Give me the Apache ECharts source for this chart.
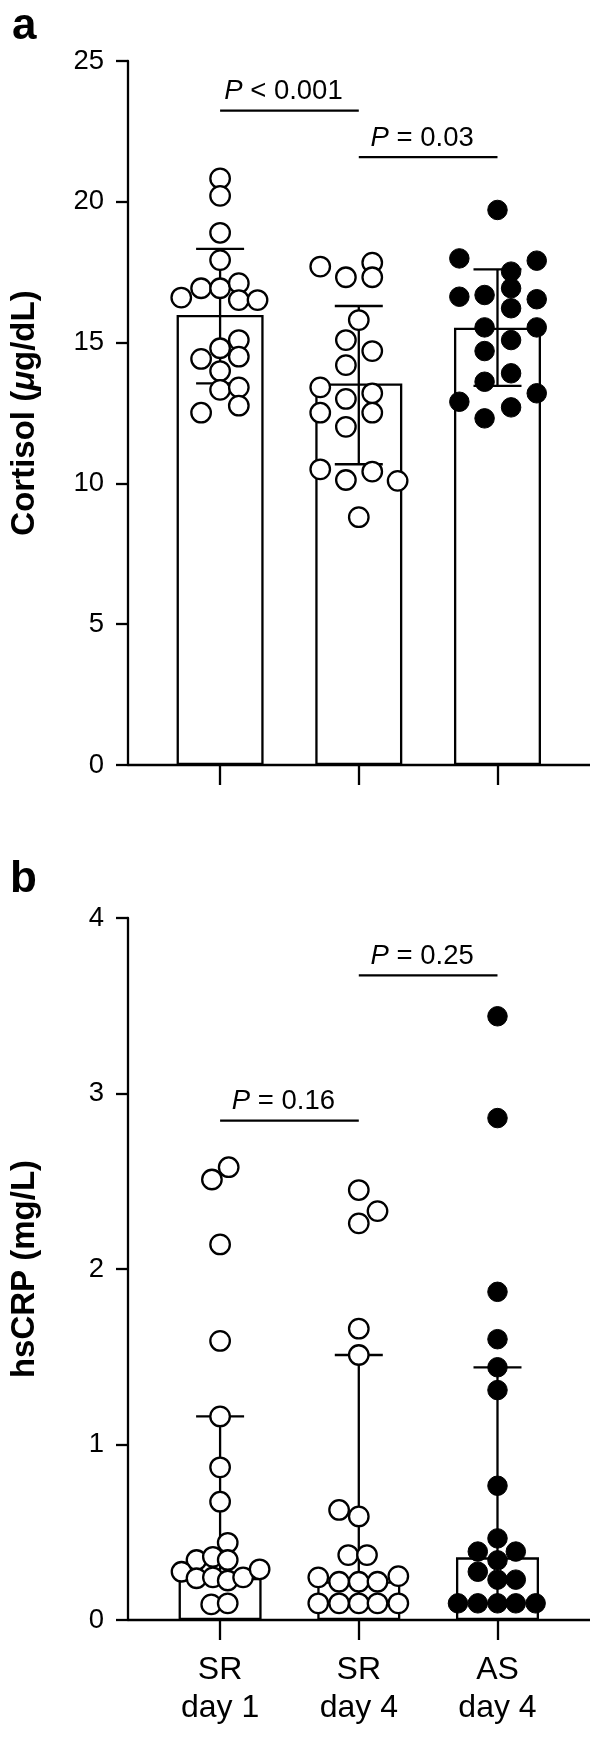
<!DOCTYPE html>
<html>
<head>
<meta charset="utf-8">
<script src="https://cdn.jsdelivr.net/npm/echarts@6/dist/echarts.min.js"></script>
<style>
  html, body { margin: 0; padding: 0; background: #fff; }
  #chart { width: 590px; height: 1737px; }
</style>
</head>
<body>
<div id="chart"></div>
<script>
// groups sit at x = 1, 2, 3
const groups = ["SR\nday 1", "SR\nday 4", "AS\nday 4"];

// ---- a: cortisol (µg/dL), mean ± SD ----
const cortSR1 = [20.83, 20.21, 18.90, 17.93, 16.60, 16.93, 16.93, 17.11, 16.51, 16.51, 15.09, 14.80, 14.42, 14.50, 13.99, 13.32, 13.41, 12.76, 12.51];
const cortSR1Jit = [0, 0, 0, 0, -0.28, -0.137, 0, 0.135, 0.135, 0.27, 0.135, 0, -0.137, 0.135, 0, 0, 0.135, 0.135, -0.137];
const cortSR4 = [17.70, 17.84, 17.32, 17.32, 15.80, 15.09, 14.70, 14.20, 13.41, 13.20, 13.00, 12.51, 12.51, 12.01, 10.50, 10.42, 10.12, 10.09, 8.80];
const cortSR4Jit = [-0.278, 0.097, -0.093, 0.097, 0, -0.093, 0.097, -0.093, -0.278, 0.097, -0.093, -0.278, 0.097, -0.093, -0.278, 0.097, -0.093, 0.28, 0];
const cortAS4 = [19.71, 17.99, 17.91, 17.52, 16.93, 16.63, 16.69, 16.54, 16.22, 15.54, 15.54, 15.09, 14.70, 13.91, 13.61, 12.90, 13.20, 12.70, 12.31];
const cortAS4Jit = [0, -0.275, 0.283, 0.098, 0.098, -0.275, -0.093, 0.283, 0.098, -0.093, 0.283, 0.098, -0.093, 0.098, -0.093, -0.275, 0.283, 0.098, -0.093];
const cortMean = [15.98, 13.55, 15.53];
const cortLow = [13.55, 10.68, 13.46];
const cortHigh = [18.33, 16.30, 17.60];
// [from group, to group, bar height, label]
const cortP = [[1, 2, 23.24, "< 0.001"], [2, 3, 21.59, "= 0.03"]];

// ---- b: hsCRP (mg/L), median with IQR ----
const crpSR1 = [2.58, 2.51, 2.14, 1.59, 1.16, 0.87, 0.674, 0.44, 0.342, 0.36, 0.342, 0.275, 0.238, 0.243, 0.225, 0.243, 0.289, 0.089, 0.095];
const crpSR1Jit = [0.062, -0.059, 0, 0, 0, 0, 0, 0.055, -0.17, -0.052, 0.055, -0.278, -0.17, -0.052, 0.055, 0.166, 0.285, -0.064, 0.055];
const crpSR4 = [2.45, 2.33, 2.26, 1.66, 1.51, 0.627, 0.59, 0.37, 0.37, 0.243, 0.218, 0.218, 0.218, 0.25, 0.095, 0.095, 0.095, 0.095, 0.095];
const crpSR4Jit = [0, 0.135, 0, 0, 0, -0.142, 0, -0.076, 0.059, -0.292, -0.142, 0, 0.135, 0.285, -0.292, -0.142, 0, 0.135, 0.285];
const crpAS4 = [3.44, 2.86, 1.87, 1.60, 1.44, 1.31, 0.765, 0.465, 0.39, 0.39, 0.34, 0.275, 0.23, 0.23, 0.095, 0.095, 0.095, 0.095, 0.095];
const crpAS4Jit = [0, 0, 0, 0, 0, 0, 0, 0, -0.142, 0.132, 0, -0.142, 0, 0.132, -0.285, -0.142, 0, 0.132, 0.275];
const crpMedian = [0.24, 0.22, 0.357];
const crpLow = [0.24, 0.095, 0.095];
const crpHigh = [1.16, 1.51, 1.44];
const crpP = [[1, 2, 2.845, "= 0.16"], [2, 3, 3.673, "= 0.25"]];

const FONT = "Liberation Sans, Arial, Helvetica, sans-serif";
const LW = 2.3;

function points(vals, jit, g) {
  return vals.map((v, i) => [g + jit[i], v]);
}

function errBars(mid, low, high) {
  return mid.map((m, i) => [i + 1, low[i], high[i]]);
}

function renderErr(params, api) {
  const lo = api.coord([api.value(0), api.value(1)]);
  const hi = api.coord([api.value(0), api.value(2)]);
  const w = 24;
  const st = { stroke: "#000", lineWidth: LW };
  return {
    type: "group",
    children: [
      { type: "line", shape: { x1: lo[0], y1: lo[1], x2: hi[0], y2: hi[1] }, style: st },
      { type: "line", shape: { x1: hi[0] - w, y1: hi[1], x2: hi[0] + w, y2: hi[1] }, style: st },
      { type: "line", shape: { x1: lo[0] - w, y1: lo[1], x2: lo[0] + w, y2: lo[1] }, style: st }
    ]
  };
}

function sigRenderer(labels) {
  return function (params, api) {
    const p1 = api.coord([api.value(0), api.value(2)]);
    const p2 = api.coord([api.value(1), api.value(2)]);
    return {
      type: "group",
      children: [
        { type: "line", shape: { x1: p1[0], y1: p1[1], x2: p2[0], y2: p2[1] },
          style: { stroke: "#000", lineWidth: LW } },
        { type: "text", x: (p1[0] + p2[0]) / 2 - 6, y: p1[1] - 19,
          style: {
            text: "{i|P} " + labels[params.dataIndex][3],
            fill: "#000", fontSize: 27.5, fontFamily: FONT,
            align: "center", verticalAlign: "middle",
            rich: { i: { fontStyle: "italic", fontSize: 27.5, fontFamily: FONT, fill: "#000" } }
          } }
      ]
    };
  };
}

function xAxisFor(gi, withLabels) {
  return {
    gridIndex: gi, type: "value", min: 0.336, max: 3.667,
    axisLine: { onZero: false, lineStyle: { color: "#000", width: LW } },
    axisTick: { customValues: [1, 2, 3], length: 20, lineStyle: { color: "#000", width: LW } },
    axisLabel: withLabels ? {
      customValues: [1, 2, 3], formatter: v => groups[Math.round(v) - 1],
      fontSize: 32, lineHeight: 38, margin: 31, color: "#000", fontFamily: FONT
    } : { show: false },
    splitLine: { show: false }
  };
}

function yAxisFor(gi, max, interval, name, rich) {
  return {
    gridIndex: gi, type: "value", min: 0, max: max, interval: interval,
    name: name, nameLocation: "middle", nameGap: 87,
    nameTextStyle: { fontSize: 33, fontWeight: "bold", color: "#000", fontFamily: FONT, rich: rich },
    axisLine: { show: true, lineStyle: { color: "#000", width: LW } },
    axisTick: { show: true, length: 12, lineStyle: { color: "#000", width: LW } },
    axisLabel: { fontSize: 27.5, color: "#000", margin: 24, fontFamily: FONT },
    splitLine: { show: false }
  };
}

const openDot = { color: "#fff", borderColor: "#000", borderWidth: LW, opacity: 1 };
const fullDot = { color: "#000", borderColor: "#000", borderWidth: 1, opacity: 1 };

function scatter(gi, data, style) {
  return { type: "scatter", xAxisIndex: gi, yAxisIndex: gi, data: data,
    symbol: "circle", symbolSize: 19.5, itemStyle: style, z: 4 };
}

const nameRich = {
  b: { fontSize: 33, fontWeight: "bold", fontFamily: FONT, color: "#000" },
  bi: { fontSize: 33, fontWeight: "bold", fontStyle: "italic", fontFamily: FONT, color: "#000" }
};

const option = {
  animation: false,
  backgroundColor: "#fff",
  title: [
    { text: "a", left: 12, top: 5, padding: 0,
      textStyle: { fontSize: 44, fontWeight: "bold", color: "#000", fontFamily: FONT } },
    { text: "b", left: 10, top: 858, padding: 0,
      textStyle: { fontSize: 44, fontWeight: "bold", color: "#000", fontFamily: FONT } }
  ],
  grid: [
    { left: 122, top: 61, width: 468, height: 704 },
    { left: 122, top: 918, width: 468, height: 702 }
  ],
  xAxis: [xAxisFor(0, false), xAxisFor(1, true)],
  yAxis: [
    yAxisFor(0, 25, 5, "{b|Cortisol (}{bi|μ}{b|g/dL)}", nameRich),
    yAxisFor(1, 4, 1, "{b|hsCRP (mg/L)}", nameRich)
  ],
  series: [
    // a
    { type: "bar", xAxisIndex: 0, yAxisIndex: 0, data: cortMean.map((v, i) => [i + 1, v]),
      barWidth: 87, itemStyle: { color: "#fff", borderColor: "#000", borderWidth: LW }, z: 2 },
    { type: "custom", xAxisIndex: 0, yAxisIndex: 0, data: errBars(cortMean, cortLow, cortHigh),
      renderItem: renderErr, z: 3 },
    scatter(0, points(cortSR1, cortSR1Jit, 1), openDot),
    scatter(0, points(cortSR4, cortSR4Jit, 2), openDot),
    scatter(0, points(cortAS4, cortAS4Jit, 3), fullDot),
    { type: "custom", xAxisIndex: 0, yAxisIndex: 0, data: cortP.map(d => [d[0], d[1], d[2]]),
      renderItem: sigRenderer(cortP), z: 5 },
    // b
    { type: "bar", xAxisIndex: 1, yAxisIndex: 1, data: crpMedian.map((v, i) => [i + 1, v]),
      barWidth: 83, itemStyle: { color: "#fff", borderColor: "#000", borderWidth: LW }, z: 2 },
    { type: "custom", xAxisIndex: 1, yAxisIndex: 1, data: errBars(crpMedian, crpLow, crpHigh),
      renderItem: renderErr, z: 3 },
    scatter(1, points(crpSR1, crpSR1Jit, 1), openDot),
    scatter(1, points(crpSR4, crpSR4Jit, 2), openDot),
    scatter(1, points(crpAS4, crpAS4Jit, 3), fullDot),
    { type: "custom", xAxisIndex: 1, yAxisIndex: 1, data: crpP.map(d => [d[0], d[1], d[2]]),
      renderItem: sigRenderer(crpP), z: 5 }
  ]
};

const myChart = echarts.init(document.getElementById("chart"));
myChart.setOption(option);
</script>
</body>
</html>
